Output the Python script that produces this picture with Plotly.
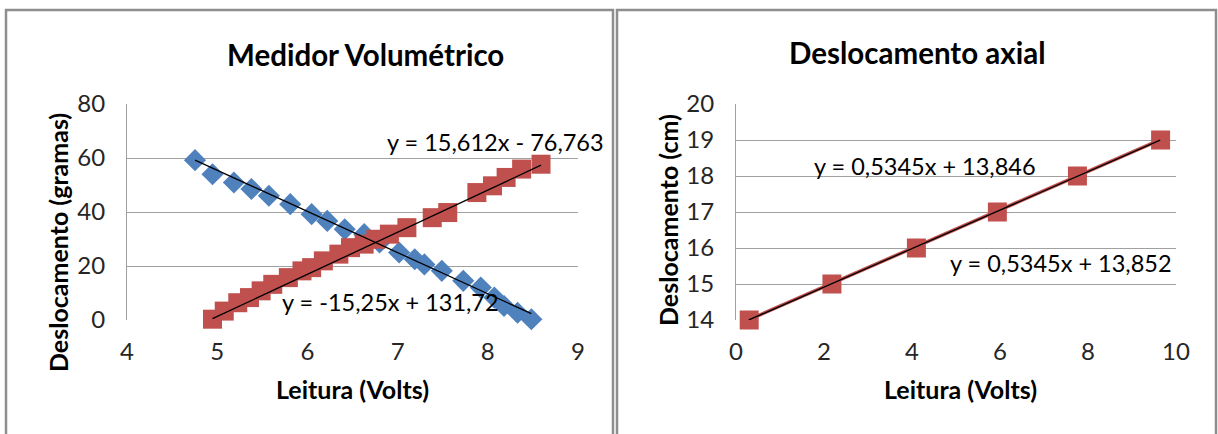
import plotly.graph_objects as go

W, H = 1218, 434

# --- Medidor Volumétrico: reading (V) vs. displacement (g) ---
desc_volts = [4.754, 4.948, 5.185, 5.379, 5.573, 5.810, 6.047, 6.220, 6.414, 6.630,
              6.800, 7.017, 7.190, 7.297, 7.490, 7.728, 7.922, 8.073, 8.180, 8.330, 8.483]
desc_grams = [59.2, 54.0, 50.9, 48.5, 46.0, 42.9, 39.2, 36.7, 33.6, 31.8,
              28.7, 25.0, 22.5, 20.6, 18.2, 14.5, 12.0, 8.3, 5.2, 2.7, 0.3]

asc_volts = [4.948, 5.078, 5.228, 5.358, 5.487, 5.616, 5.789, 5.940, 6.047, 6.177,
             6.349, 6.478, 6.629, 6.759, 6.909, 7.103, 7.384, 7.556, 7.879, 8.052,
             8.203, 8.375, 8.590]
asc_grams = [0.3, 3.3, 6.4, 8.3, 10.8, 13.2, 15.7, 18.2, 19.4, 21.9,
             24.4, 26.8, 28.1, 29.9, 31.8, 34.2, 37.9, 39.8, 47.2, 49.7,
             52.8, 55.9, 57.7]

desc_fit = (-15.25, 131.72)
asc_fit = (15.612, -76.763)

# --- Deslocamento axial: reading (V) vs. displacement (cm) ---
ax_volts_a = [0.29, 2.17, 4.09, 5.93, 7.75, 9.64]
ax_cm_a = [14, 15, 16, 17, 18, 19]
ax_volts_b = [0.30, 2.18, 4.10, 5.94, 7.76, 9.65]
ax_cm_b = [14, 15, 16, 17, 18, 19]

ax_fit_a = (0.5345, 13.846)
ax_fit_b = (0.5345, 13.852)

BLUE = "#4F81BD"
RED = "#C0504D"
GRID = "#A0A0A0"
FONT = "Lato"


def px(x):
    return x / W


def py(y):
    return 1 - y / H


def fit_line(xs, coef):
    lo, hi = min(xs), max(xs)
    return [lo, hi], [coef[0] * lo + coef[1], coef[0] * hi + coef[1]]


def eq_text(coef):
    m, b = coef
    ms = f"{m:g}".replace(".", ",")
    bs = f"{abs(b):g}".replace(".", ",")
    sign = "+" if b >= 0 else "-"
    return f"y = {ms}x {sign} {bs}"


fig = go.Figure()

# left chart
fig.add_trace(go.Scatter(x=desc_volts, y=desc_grams, mode="markers", cliponaxis=False,
                         marker=dict(symbol="diamond", size=17, color=BLUE),
                         xaxis="x", yaxis="y"))
fig.add_trace(go.Scatter(x=asc_volts, y=asc_grams, mode="markers", cliponaxis=False,
                         marker=dict(symbol="square", size=19, color=RED),
                         xaxis="x", yaxis="y"))
for xs, coef in ((desc_volts, desc_fit), (asc_volts, asc_fit)):
    lx, ly = fit_line(xs, coef)
    fig.add_trace(go.Scatter(x=lx, y=ly, mode="lines", cliponaxis=False,
                             line=dict(color="black", width=1.3),
                             xaxis="x", yaxis="y"))

# right chart (the blue series sits almost exactly under the red one)
fig.add_trace(go.Scatter(x=ax_volts_a, y=ax_cm_a, mode="markers", cliponaxis=False,
                         marker=dict(symbol="diamond", size=13, color=BLUE),
                         xaxis="x2", yaxis="y2"))
fig.add_trace(go.Scatter(x=ax_volts_b, y=ax_cm_b, mode="markers", cliponaxis=False,
                         marker=dict(symbol="square", size=19, color=RED),
                         xaxis="x2", yaxis="y2"))
lx, ly = fit_line(ax_volts_b, ax_fit_b)
fig.add_trace(go.Scatter(x=lx, y=ly, mode="lines", cliponaxis=False,
                         line=dict(color=RED, width=3.5), xaxis="x2", yaxis="y2"))
lx, ly = fit_line(ax_volts_a, ax_fit_a)
fig.add_trace(go.Scatter(x=lx, y=ly, mode="lines", cliponaxis=False,
                         line=dict(color="black", width=1.3), xaxis="x2", yaxis="y2"))

tickfont = dict(family=FONT, size=24, color="#262626")
xcommon = dict(showgrid=False, zeroline=False, showline=False, ticks="", automargin=False,
               tickfont=tickfont, ticklabelstandoff=15, fixedrange=True)
ycommon = dict(showgrid=True, gridcolor=GRID, gridwidth=1, zeroline=False, automargin=False,
               showline=True, linecolor=GRID, linewidth=1, ticks="",
               tickfont=tickfont, ticklabelstandoff=16, fixedrange=True)

fig.update_layout(
    width=W, height=H,
    margin=dict(l=0, r=0, t=0, b=0, pad=0, autoexpand=False),
    paper_bgcolor="white", plot_bgcolor="white",
    showlegend=False,
    xaxis=dict(domain=[px(127), px(578)], range=[4, 9], dtick=1, anchor="y", **xcommon),
    yaxis=dict(domain=[py(320), py(104)], range=[0, 80], dtick=20, anchor="x", **ycommon),
    xaxis2=dict(domain=[px(736), px(1176)], range=[0, 10], dtick=2, anchor="y2", **xcommon),
    yaxis2=dict(domain=[py(320), py(104)], range=[14, 20], dtick=1, anchor="x2", **ycommon),
)

# panel frames
for x0, x1 in ((6, 613), (617, 1216)):
    fig.add_shape(type="rect", xref="paper", yref="paper",
                  x0=px(x0), x1=px(x1), y0=py(H + 20), y1=py(10),
                  line=dict(color="#8E8E8E", width=2.5), fillcolor="rgba(0,0,0,0)")


def label(text, x, y, size, bold=False, angle=0, xanchor="center"):
    fig.add_annotation(text=f"<b>{text}</b>" if bold else text,
                       xref="paper", yref="paper", x=px(x), y=py(y),
                       xanchor=xanchor, yanchor="middle", textangle=angle,
                       showarrow=False, font=dict(family=FONT, size=size, color="black"))


label("Medidor Volumétrico", 365, 55, 29.5, bold=True)
label("Deslocamento axial", 917, 53, 29.5, bold=True)
label("Leitura (Volts)", 352, 389, 25, bold=True)
label("Leitura (Volts)", 960, 389, 25, bold=True)
label("Deslocamento (gramas)", 58, 243, 25, bold=True, angle=-90)
label("Deslocamento (cm)", 668, 220, 25, bold=True, angle=-90)

label(eq_text(asc_fit), 385, 142, 23.5, xanchor="left")
label(eq_text(desc_fit), 280, 302, 23.5, xanchor="left")
label(eq_text(ax_fit_a), 812, 166, 23.5, xanchor="left")
label(eq_text(ax_fit_b), 948, 263, 23.5, xanchor="left")

fig.write_html("out.html")
